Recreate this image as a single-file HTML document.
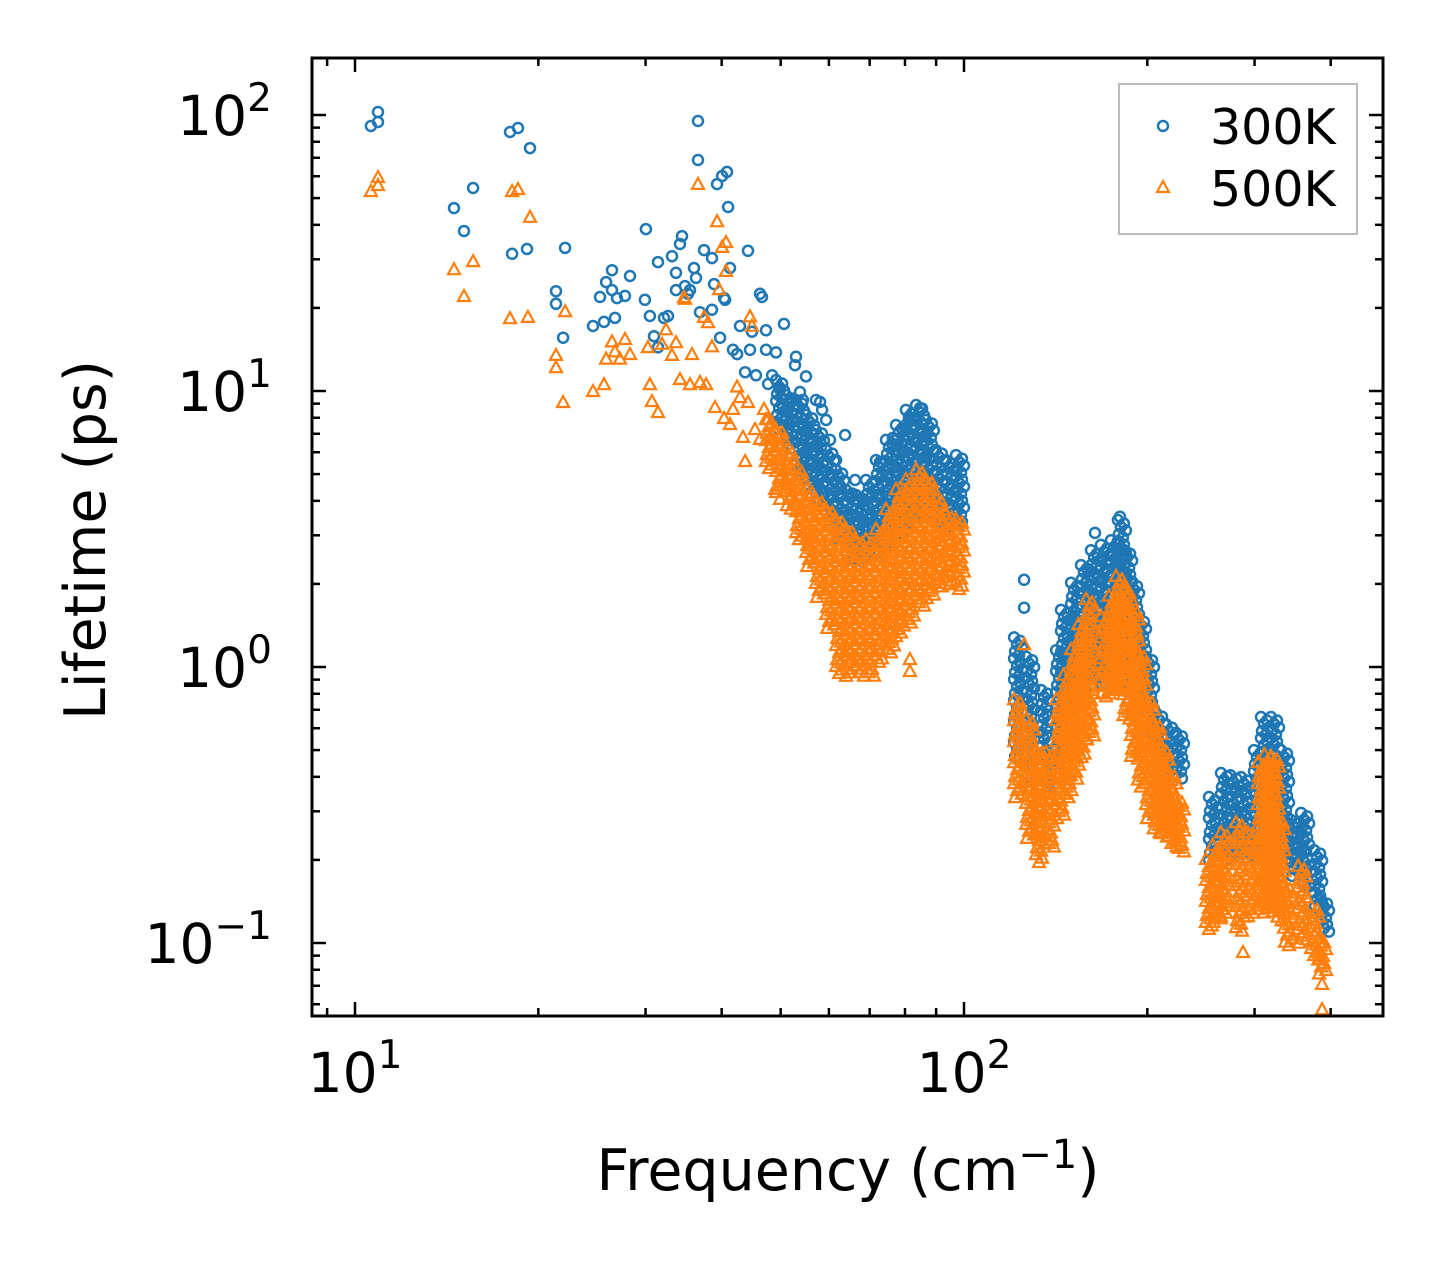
<!DOCTYPE html>
<html><head><meta charset="utf-8">
<style>
html,body{margin:0;padding:0;background:#fff;}
svg{display:block;font-family:"DejaVu Sans","Liberation Sans",sans-serif;}
</style></head>
<body>
<svg id="chart" width="1442" height="1265" viewBox="0 0 1442 1265" xmlns="http://www.w3.org/2000/svg">
<rect x="0" y="0" width="1442" height="1265" fill="#fff"/>
<g id="marks"></g>
<g id="axes"></g>
<text x="848" y="1190" font-size="57" text-anchor="middle">Frequency (cm<tspan dy="-22" font-size="40">−1</tspan><tspan dy="22">)</tspan></text>
<text transform="translate(105,540) rotate(-90)" font-size="57" text-anchor="middle">Lifetime (ps)</text>
<g>
<rect x="1119" y="84" width="238" height="150" fill="#fff" stroke="#bbb" stroke-width="2"/>
<circle cx="1163" cy="126" r="5" fill="none" stroke="#1f77b4" stroke-width="2.5"/>
<text x="1210" y="144" font-size="49">300K</text>
<polygon points="1163,181 1169,192 1157,192" fill="none" stroke="#ff7f0e" stroke-width="2.2"/>
<text x="1210" y="206" font-size="49">500K</text>
</g>
</svg>
<script>
// ---- data: sparse points (frequency cm^-1, lifetime ps) ----
const freq300 = [10.62,10.91,10.91,14.54,15.10,15.63,17.97,18.52,18.11,19.38,19.16,21.38,21.38,22.13,21.96,24.59,25.25,25.64,25.84,26.42,26.73,26.42,26.93,27.76,28.29,29.93,30.04,30.50,30.97,31.44,31.44,32.16,32.66,33.15,33.66,33.66,34.17,34.43,34.83,35.22,35.49,36.03,36.58,36.58,36.30,36.86,37.42,38.57,38.57,38.87,39.31,39.76,40.06,40.52,40.82,40.98,40.37,41.29,41.76,42.40,42.88,44.19,43.70,44.53,44.87,45.55,46.24,46.59,47.31,47.31,47.67,48.40,49.13,49.88,50.64,51.03,51.80,52.79,52.99,53.79,54.40,55.02,55.86,57.15,58.03,58.47,59.36,60.26,61.64,62.58,63.78,65.00,66.24,84.7,81.5,76.4,72.8,77.0,125.5,125.5,164.1,180.4];
const life300 = [91.2,102.5,94.3,46.0,38.0,54.4,86.8,89.7,31.4,75.9,32.7,23.0,20.7,33.0,15.6,17.2,21.9,17.8,24.8,27.4,18.4,23.2,21.7,22.1,26.1,21.4,38.6,18.7,15.8,14.4,29.3,18.4,18.7,30.8,26.8,23.2,34.1,36.4,24.0,22.5,23.2,27.9,95.1,68.7,25.7,19.3,32.4,30.3,19.7,24.4,56.2,15.6,60.1,21.4,62.2,46.4,21.7,27.9,14.1,13.6,17.2,32.2,11.7,14.1,16.4,11.4,22.5,21.9,14.1,16.6,10.6,11.4,13.8,10.1,17.5,7.85,9.28,12.4,13.3,9.92,9.28,11.3,6.65,9.28,9.12,8.54,7.85,6.65,5.62,4.53,6.93,4.20,4.76,8.68,7.85,6.76,5.53,6.65,2.07,1.64,3.06,3.50];
const freq500 = [10.62,10.91,10.91,14.54,15.10,15.63,18.11,18.52,17.97,19.23,19.38,21.38,21.38,22.13,21.96,24.59,25.64,25.84,26.42,26.73,27.24,27.76,28.29,30.27,30.50,30.73,31.44,31.92,32.41,33.15,33.66,34.17,34.69,34.83,35.49,35.76,36.58,36.86,37.42,37.71,37.99,38.57,39.01,39.31,39.61,40.06,40.37,40.67,40.67,41.29,41.76,42.40,42.88,43.37,43.70,44.19,44.53,44.87,45.38,46.24,46.95,47.67,48.40,48.95,49.50,49.88,50.83,51.80,52.79,53.79,55.02,55.86,81.5,81.5,132.8,125.5,287.2,387.2,387.2];
const life500 = [52.6,59.1,55.3,27.4,21.9,29.3,52.6,53.5,18.2,18.4,42.4,13.4,12.1,19.3,9.05,9.92,10.5,13.0,15.0,13.8,13.0,15.3,13.5,14.3,10.5,9.12,8.32,14.7,16.6,13.4,14.9,10.96,21.7,21.4,10.5,13.5,55.8,10.7,18.4,10.5,17.6,14.4,8.68,40.9,23.2,33.0,7.92,34.4,27.0,7.53,8.54,10.3,9.43,6.76,5.53,9.05,18.5,17.1,7.22,6.65,8.54,7.85,6.65,4.38,5.62,4.03,5.17,4.76,3.86,3.64,2.88,2.77,0.959,1.06,0.195,1.20,0.092,0.0705,0.0571];
// ---- data: dense clusters as observed columns (frequency, lowest lifetime, highest lifetime) ----
const band300Freq = [49.9,51.8,53.8,55.9,58.0,60.3,62.6,65.0,67.5,70.1,72.8,75.6,78.5,81.5,84.7,87.9,91.3,94.8,98.5,
  122.7,128.4,135.9,143.8,146.5,152.2,158.0,164.1,170.4,177.0,181.7,186.0,190.9,196.0,202.0,209.8,218.0,226.3,
  256.4,268.3,278.0,289.3,303.9,312.1,324.1,336.6,349.5,363.1,381.4,391.6];
const band300Low = [7.22,6.37,5.17,4.38,3.86,3.41,2.88,2.44,2.34,2.44,2.55,2.77,2.88,3.14,3.41,3.41,3.27,3.14,3.27,
  0.460,0.390,0.358,0.423,0.500,0.759,0.825,0.897,0.86,0.825,0.825,0.78,0.759,0.64,0.544,0.460,0.41,0.390,
  0.184,0.200,0.200,0.200,0.200,0.200,0.200,0.200,0.17,0.156,0.132,0.109];
const band300High = [10.96,9.67,9.28,8.19,7.22,6.11,5.17,4.38,4.20,4.76,5.62,6.65,7.53,8.54,8.90,7.85,6.11,5.62,5.86,
  1.28,1.09,0.825,1.15,1.61,2.02,2.34,2.65,2.77,2.88,3.41,2.65,2.02,1.5,1.09,0.681,0.62,0.577,
  0.338,0.413,0.405,0.399,0.500,0.659,0.659,0.500,0.279,0.296,0.217,0.143];
const band500Freq = [48.0,49.9,51.8,53.8,55.9,58.0,60.3,62.6,65.0,67.5,70.1,72.8,75.6,78.5,81.5,84.7,87.9,91.3,94.8,98.5,
  122.7,128.4,133.3,138.4,143.8,147.9,152.2,156.5,161.1,170.4,175.5,180.4,185.5,190.9,196.0,202.0,208.0,213.8,220.0,226.3,
  253.4,260.0,268.3,283.9,297.1,308.6,316.0,324.1,331.0,340.4,359.0,377.1,387.2];
const band500Low = [5.17,4.20,3.71,2.88,2.25,1.75,1.36,0.935,0.897,0.897,0.897,1.02,1.11,1.25,1.42,1.61,1.75,1.90,1.98,1.90,
  0.330,0.236,0.200,0.217,0.279,0.33,0.390,0.46,0.544,0.759,0.79,0.825,0.64,0.460,0.36,0.279,0.25,0.236,0.22,0.212,
  0.111,0.116,0.121,0.109,0.121,0.126,0.128,0.132,0.118,0.0967,0.0984,0.0868,0.0766];
const band500High = [7.85,7.22,6.11,5.17,4.38,4.03,3.71,3.41,3.14,2.88,2.88,3.14,3.71,4.38,4.76,5.17,4.76,4.03,3.55,3.41,
  0.759,0.643,0.500,0.488,0.759,0.93,1.15,1.42,1.75,1.52,1.8,2.12,1.9,1.61,1.11,0.759,0.62,0.500,0.41,0.330,
  0.200,0.225,0.250,0.272,0.250,0.449,0.48,0.472,0.28,0.160,0.189,0.135,0.103];
const xTicks = [10,100];
const yTicks = [0.1,1,10,100];
const xMinor = [9,20,30,40,50,60,70,80,90,200,300,400];
const yMinor = [0.06,0.07,0.08,0.09,0.2,0.3,0.4,0.5,0.6,0.7,0.8,0.9,2,3,4,5,6,7,8,9,20,30,40,50,60,70,80,90];

// ---- axes geometry ----
const L=312,R=1383,T=58,B=1016;
const X = f => 355 + (Math.log10(f)-1)*609;
const Y = v => 115 + (2-Math.log10(v))*276;
const NS='http://www.w3.org/2000/svg';
const marks=document.getElementById('marks');
const axes=document.getElementById('axes');
function mk(tag,attrs,parent){const e=document.createElementNS(NS,tag);for(const k in attrs)e.setAttribute(k,attrs[k]);parent.appendChild(e);return e;}
const clip=mk('clipPath',{id:'pc'},marks);mk('rect',{x:L,y:T,width:R-L,height:B-T},clip);
marks.setAttribute('clip-path','url(#pc)');

function circle(cx,cy){
  const c=mk('circle',{cx:cx.toFixed(1),cy:cy.toFixed(1),r:5,fill:'none',stroke:'#1f77b4','stroke-width':2.5},marks);
  
  
}
function tri(cx,cy){
  const p=mk('polygon',{points:`${cx.toFixed(1)},${(cy-7).toFixed(1)} ${(cx+6).toFixed(1)},${(cy+4).toFixed(1)} ${(cx-6).toFixed(1)},${(cy+4).toFixed(1)}`,fill:'none',stroke:'#ff7f0e','stroke-width':2.2},marks);
  
  
}
const offs=[-4,2,-1,4,-3,1];
function bands(fs,lo,hi,fn){
  for(let i=0;i<fs.length;i++){
    const x=X(fs[i]),y0=Y(hi[i]),y1=Y(lo[i]);
    let k=0;
    for(let y=y0;y<=y1+0.1;y+=3.5,k++){fn(x+offs[k%offs.length],y);}
  }
}
// blue first
bands(band300Freq,band300Low,band300High,circle);
for(let i=0;i<freq300.length;i++)circle(X(freq300[i]),Y(life300[i]));
// orange on top
bands(band500Freq,band500Low,band500High,tri);
for(let i=0;i<freq500.length;i++)tri(X(freq500[i]),Y(life500[i]));

// frame
const fr=mk('rect',{x:L,y:T,width:R-L,height:B-T,fill:'none',stroke:'#000','stroke-width':3},axes);


// ticks
function tick(x1,y1,x2,y2,name){const l=mk('line',{x1,y1,x2,y2,stroke:'#000','stroke-width':2.5},axes);}
xTicks.forEach(v=>{const x=X(v);tick(x,B,x,B-14,'x-major-tick');tick(x,T,x,T+14,'x-major-tick-top');
  const t=mk('text',{x:x,y:1092,'font-size':55,'text-anchor':'middle'},axes);
  
  
  t.innerHTML='10<tspan dy="-24" font-size="39">'+Math.round(Math.log10(v))+'</tspan>';});
xMinor.forEach(v=>{const x=X(v);if(x<L||x>R)return;tick(x,B,x,B-8,'x-minor-tick');tick(x,T,x,T+8,'x-minor-tick-top');});
yTicks.forEach(v=>{const y=Y(v);tick(L,y,L+14,y,'y-major-tick');tick(R,y,R-14,y,'y-major-tick-right');
  const e=Math.round(Math.log10(v));
  const t=mk('text',{x:272,y:y+20,'font-size':55,'text-anchor':'end'},axes);
  
  
  t.innerHTML='10<tspan dy="-24" font-size="39">'+(e<0?'−'+(-e):e)+'</tspan>';});
yMinor.forEach(v=>{const y=Y(v);if(y<T||y>B)return;tick(L,y,L+8,y,'y-minor-tick');tick(R,y,R-8,y,'y-minor-tick-right');});
</script>
</body></html>
